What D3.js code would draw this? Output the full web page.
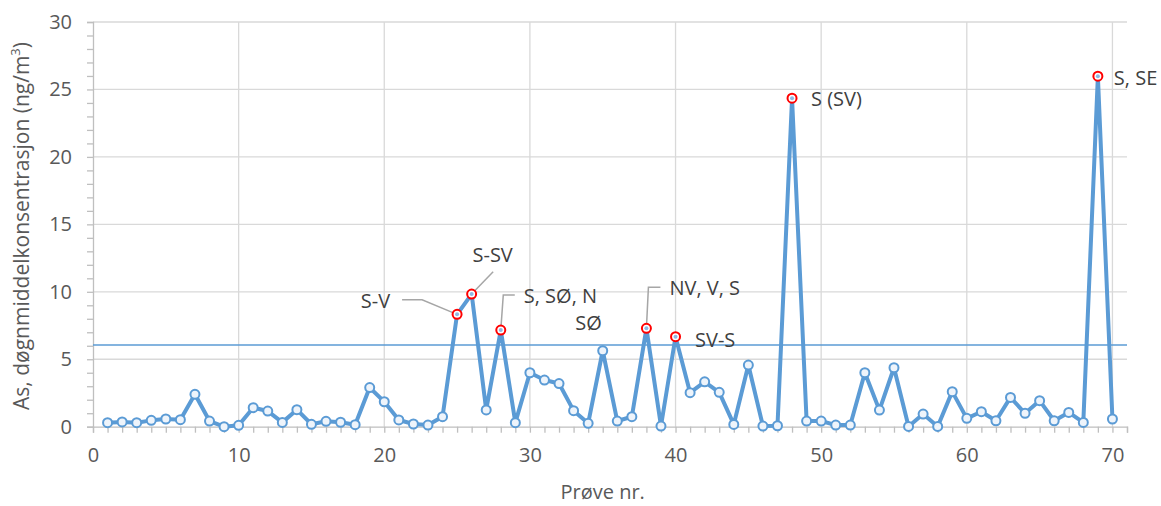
<!DOCTYPE html>
<html>
<head>
<meta charset="utf-8">
<script src="https://cdn.jsdelivr.net/npm/d3@7"></script>
<style>
  html, body { margin: 0; padding: 0; background: #fff; }
  svg { display: block; font-family: "Open Sans", "Noto Sans", sans-serif; }
</style>
</head>
<body>
<svg id="chart" width="1161" height="506"></svg>
<script>
// ---- data ----
const sampleNumbers = d3.range(1, 71);
const asValues = [
  0.30, 0.35, 0.30, 0.47, 0.57, 0.52, 2.40, 0.42, 0.00, 0.10,
  1.41, 1.16, 0.32, 1.26, 0.18, 0.40, 0.33, 0.15, 2.90, 1.85,
  0.50, 0.20, 0.12, 0.74, 8.33, 9.83, 1.24, 7.16, 0.30, 4.00,
  3.46, 3.20, 1.19, 0.25, 5.63, 0.42, 0.74, 7.29, 0.05, 6.67,
  2.52, 3.33, 2.55, 0.17, 4.57, 0.05, 0.07, 24.35, 0.42, 0.42,
  0.12, 0.12, 4.00, 1.23, 4.37, 0.02, 0.94, 0.02, 2.60, 0.62,
  1.11, 0.44, 2.17, 0.99, 1.93, 0.44, 1.06, 0.32, 25.98, 0.57
];
const referenceLevel = [6.05];
const highlightedSamples = [25, 26, 28, 38, 40, 48, 69];
const labelSamples = [25, 26, 28, 35, 38, 40, 48, 69];
const labelTexts = ["S-V", "S-SV", "S, SØ, N", "SØ", "NV, V, S", "SV-S", "S (SV)", "S, SE"];
const xTicks = [0, 10, 20, 30, 40, 50, 60, 70];
const yTicks = [0, 5, 10, 15, 20, 25, 30];
const xTitle = "Prøve nr.";
const yTitle = "As, døgnmiddelkonsentrasjon (ng/m";

// ---- layout / style ----
const svg = d3.select("#chart");
const pLeft = 93, pRight = 1127, pTop = 22, pBottom = 426.7;
const x = d3.scaleLinear().domain([0, 71]).range([pLeft, pRight]);
const y = d3.scaleLinear().domain([0, 30]).range([pBottom, pTop]);
const gridColor = "#d9d9d9", axisColor = "#bfbfbf", lineColor = "#5b9bd5";
const textColor = "#595959", labelColor = "#404040";

// label placement (pixel offsets from the point; leader polylines as offsets)
const labelStyle = {
  25: {dx: -67, dy: -13, anchor: "end", leader: [[-35, -14.6], [-55, -14.6]]},
  26: {dx: 21, dy: -39, anchor: "middle", leader: [[21.5, -22.4]]},
  28: {dx: 23, dy: -34, anchor: "start", leader: [[2.5, -35], [14, -35]]},
  35: {dx: -1, dy: -27.5, anchor: "end"},
  38: {dx: 23, dy: -40, anchor: "start", leader: [[2, -41], [14, -41]]},
  40: {dx: 19.5, dy: 3.3, anchor: "start"},
  48: {dx: 19, dy: 1, anchor: "start"},
  69: {dx: 16, dy: 2, anchor: "start"}
};

// gridlines
svg.append("g").selectAll("line").data(yTicks.filter(d => d > 0)).join("line")
  .attr("x1", pLeft).attr("x2", pRight).attr("y1", d => y(d)).attr("y2", d => y(d))
  .attr("stroke", gridColor).attr("stroke-width", 1.3);
svg.append("g").selectAll("line").data(xTicks.filter(d => d > 0)).join("line")
  .attr("x1", d => x(d)).attr("x2", d => x(d)).attr("y1", pTop).attr("y2", pBottom)
  .attr("stroke", gridColor).attr("stroke-width", 1.3);

// axes
const xAxis = d3.axisBottom(x).tickValues(d3.range(0, 72, 1)).tickSize(6).tickFormat("");
const gx = svg.append("g").attr("transform", `translate(0,${pBottom})`).call(xAxis);
gx.select(".domain").attr("stroke", axisColor).attr("stroke-width", 1.3);
gx.selectAll(".tick line").attr("stroke", axisColor).attr("stroke-width", 1.3);

const xLab = d3.axisBottom(x).tickValues(xTicks).tickSize(0).tickPadding(21);
const gxl = svg.append("g").attr("transform", `translate(0,${pBottom})`).call(xLab);
gxl.select(".domain").remove();
gxl.selectAll("text").attr("fill", textColor).style("font-size", "20px")
  .style("font-family", "'Open Sans', sans-serif");

const yAxis = d3.axisLeft(y).tickValues(d3.range(0, 31, 1)).tickSize(6).tickFormat("");
const gy = svg.append("g").attr("transform", `translate(${pLeft},0)`).call(yAxis);
gy.select(".domain").attr("stroke", axisColor).attr("stroke-width", 1.3);
gy.selectAll(".tick line").attr("stroke", axisColor).attr("stroke-width", 1.3);

const yLab = d3.axisLeft(y).tickValues(yTicks).tickSize(0).tickPadding(21);
const gyl = svg.append("g").attr("transform", `translate(${pLeft},0)`).call(yLab);
gyl.select(".domain").remove();
gyl.selectAll("text").attr("fill", textColor).style("font-size", "20px")
  .style("font-family", "'Open Sans', sans-serif");

// reference line
svg.append("g").selectAll("line").data(referenceLevel).join("line")
  .attr("x1", pLeft).attr("x2", pRight).attr("y1", d => y(d)).attr("y2", d => y(d))
  .attr("stroke", lineColor).attr("stroke-width", 1.5);

// series
const pts = sampleNumbers.map((n, i) => ({n, v: asValues[i]}));
svg.append("path").datum(pts)
  .attr("fill", "none").attr("stroke", lineColor).attr("stroke-width", 4)
  .attr("stroke-linejoin", "round")
  .attr("d", d3.line().x(d => x(d.n)).y(d => y(d.v)));

// leaders
labelSamples.forEach((n) => {
  const st = labelStyle[n];
  if (!st.leader) return;
  const px = x(n), py = y(asValues[n - 1]);
  const poly = [[px, py]].concat(st.leader.map(([a, b]) => [px + a, py + b]));
  svg.append("path").attr("d", d3.line()(poly))
    .attr("fill", "none").attr("stroke", "#a6a6a6").attr("stroke-width", 1.5);
});

// markers
svg.append("g").selectAll("circle").data(pts.filter(d => !highlightedSamples.includes(d.n))).join("circle")
  .attr("cx", d => x(d.n)).attr("cy", d => y(d.v)).attr("r", 4.5)
  .attr("fill", "#eef4fb").attr("stroke", lineColor).attr("stroke-width", 2);
const hl = svg.append("g").selectAll("g").data(pts.filter(d => highlightedSamples.includes(d.n))).join("g");
hl.append("circle")
  .attr("cx", d => x(d.n)).attr("cy", d => y(d.v)).attr("r", 4.5)
  .attr("fill", "#ffffff").attr("stroke", "#ff0000").attr("stroke-width", 2);
hl.append("circle")
  .attr("cx", d => x(d.n)).attr("cy", d => y(d.v)).attr("r", 2)
  .attr("fill", "#8fb8e3");

// labels
labelSamples.forEach((n, i) => {
  const st = labelStyle[n];
  const px = x(n), py = y(asValues[n - 1]);
  svg.append("text")
    .attr("x", px + st.dx).attr("y", py + st.dy)
    .attr("dy", "0.35em").attr("text-anchor", st.anchor)
    .attr("fill", labelColor).style("font-size", "20px")
    .text(labelTexts[i]);
});

// titles
svg.append("text").attr("x", (pLeft + x(70)) / 2).attr("y", 492).attr("dy", "0.35em")
  .attr("text-anchor", "middle").attr("fill", textColor).style("font-size", "20px").text(xTitle);
const yt = svg.append("text").attr("transform", "translate(22,226) rotate(-90)")
  .attr("dy", "0.35em").attr("text-anchor", "middle").attr("fill", textColor).style("font-size", "21px");
yt.append("tspan").text(yTitle);
yt.append("tspan").attr("baseline-shift", "super").style("font-size", "13px").text("3");
yt.append("tspan").text(")");
</script>
</body>
</html>
